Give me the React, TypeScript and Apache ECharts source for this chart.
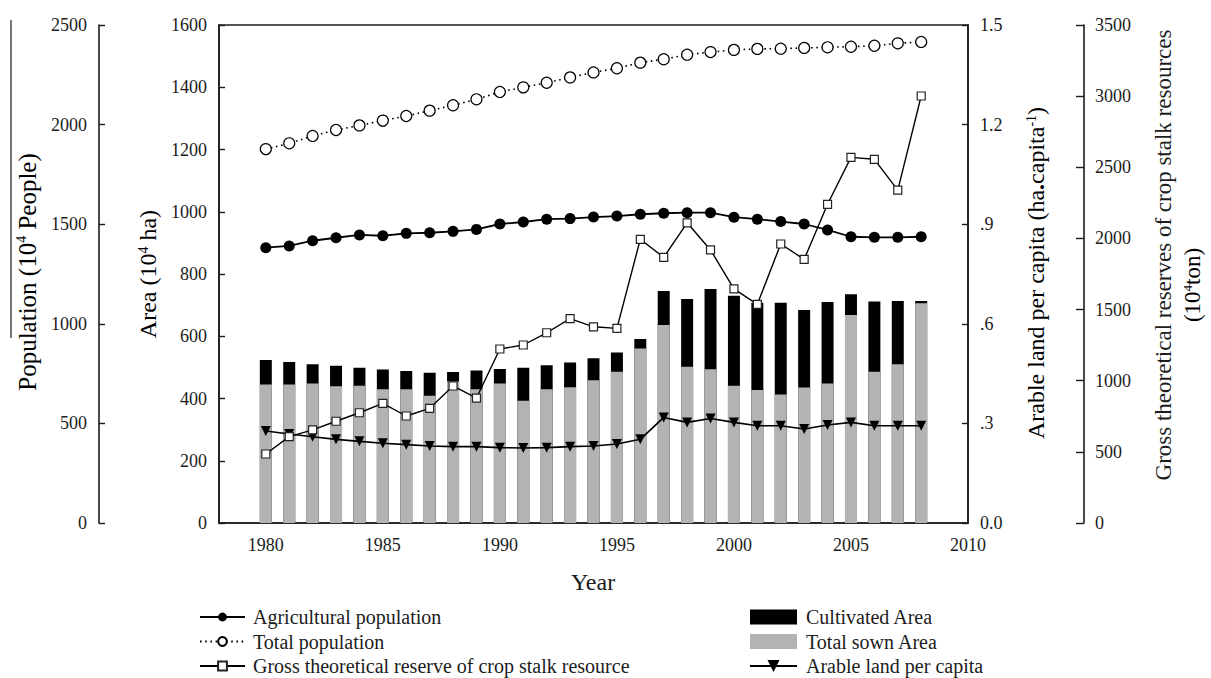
import React, { useEffect, useRef } from "react";
import * as echarts from "echarts";

// Years covered by every series
const years = [
  1980, 1981, 1982, 1983, 1984, 1985, 1986, 1987, 1988, 1989, 1990, 1991, 1992, 1993, 1994,
  1995, 1996, 1997, 1998, 1999, 2000, 2001, 2002, 2003, 2004, 2005, 2006, 2007, 2008,
];

// Area, 10^4 ha (left axis)
const cultivatedArea = [
  524, 517, 510, 505, 499, 493, 488, 483, 485, 490, 495, 499, 507, 516, 529,
  548, 591, 745, 720, 752, 730, 708, 708, 684, 710, 735, 712, 713, 713,
];
const totalSownArea = [
  445, 445, 448, 439, 441, 430, 430, 409, 455, 430, 448, 393, 430, 436, 459,
  486, 561, 636, 502, 494, 441, 427, 413, 435, 448, 668, 486, 510, 706,
];

// Population, 10^4 people (outer left axis)
const agriculturalPopulation = [
  1382, 1391, 1417, 1432, 1446, 1442, 1454, 1457, 1464, 1474, 1501, 1511, 1525, 1528, 1536,
  1541, 1550, 1555, 1558, 1558, 1535, 1525, 1513, 1501, 1471, 1437, 1434, 1434, 1437,
];
const totalPopulation = [
  1877, 1906, 1943, 1973, 1996, 2020, 2043, 2070, 2097, 2127, 2164, 2187, 2210, 2237, 2262,
  2283, 2311, 2328, 2351, 2364, 2375, 2380, 2381, 2385, 2388, 2391, 2396, 2408, 2415,
];

// Crop stalk resources, 10^4 ton (outer right axis)
const stalkReserve = [
  485, 607, 654, 715, 775, 841, 752, 806, 963, 878, 1223, 1251, 1337, 1436, 1379,
  1368, 1994, 1867, 2110, 1919, 1645, 1537, 1961, 1853, 2240, 2570, 2556, 2340, 3001,
];

// Arable land per capita, ha/capita (inner right axis)
const arablePerCapita = [
  0.277, 0.268, 0.26, 0.252, 0.246, 0.24, 0.236, 0.232, 0.23, 0.23, 0.227, 0.226, 0.227, 0.23, 0.232,
  0.238, 0.252, 0.318, 0.303, 0.315, 0.303, 0.293, 0.293, 0.283, 0.295, 0.303, 0.293, 0.293, 0.293,
];

const FONT = '"Liberation Serif", "Times New Roman", serif';
const INK = "#1c1c1c";

const pairs = (vals: number[]) => years.map((y, i) => [y, vals[i]]);

const axisBase = {
  type: "value" as const,
  splitLine: { show: false },
  axisLine: { show: true, lineStyle: { color: INK, width: 1.6 } },
  axisTick: { show: true, inside: true, length: 6, lineStyle: { color: INK, width: 1.4 } },
  axisLabel: {
    fontSize: 18,
    color: INK,
    fontFamily: FONT,
    margin: 12,
    formatter: (v: number) => String(v),
  },
};

const titleRich = (size: number) => ({
  n: { fontSize: size, lineHeight: size, fontFamily: FONT, color: INK },
  s: {
    fontSize: Math.round(size * 0.58),
    lineHeight: Math.round(size * 0.58),
    fontFamily: FONT,
    color: INK,
    verticalAlign: "top" as const,
  },
});

const legendText = { fontSize: 20, lineHeight: 20, fontFamily: FONT, color: INK };

function buildOption(): echarts.EChartsOption {
  return {
    animation: false,
    backgroundColor: "#fff",
    grid: {
      left: 219,
      right: 243,
      top: 25,
      bottom: 155,
      show: true,
      borderColor: INK,
      borderWidth: 1.6,
    },
    xAxis: {
      type: "value",
      min: 1978,
      max: 2010,
      splitNumber: 6,
      splitLine: { show: false },
      axisLine: { lineStyle: { color: INK, width: 1.6 } },
      axisTick: { show: false },
      axisLabel: {
        fontSize: 18,
        color: INK,
        fontFamily: FONT,
        margin: 13,
        formatter: (v: number) => (v % 5 === 0 ? String(v) : ""),
      },
    },
    yAxis: [
      { ...axisBase, position: "left", min: 0, max: 1600, interval: 200 },
      { ...axisBase, position: "left", offset: 120, min: 0, max: 2500, interval: 500 },
      {
        ...axisBase,
        position: "right",
        min: 0,
        max: 1.5,
        interval: 0.3,
        axisLabel: {
          ...axisBase.axisLabel,
          formatter: (v: number) => {
            if (v === 0) return "0.0";
            const s = v.toFixed(1);
            return v < 1 ? s.slice(1) : s;
          },
        },
      },
      {
        ...axisBase,
        position: "right",
        offset: 116,
        min: 0,
        max: 3500,
        interval: 500,
        axisTick: { ...axisBase.axisTick, length: 8 },
        axisLabel: { ...axisBase.axisLabel, margin: 11 },
      },
    ],
    legend: [
      {
        orient: "vertical",
        left: 199,
        top: 607,
        height: 80,
        padding: 0,
        itemWidth: 45,
        itemHeight: 11,
        itemGap: 4.5,
        textStyle: { ...legendText, padding: [0, 0, 0, 3] },
        data: [
          "Agricultural population",
          "Total population",
          "Gross theoretical reserve of crop stalk resource",
        ],
      },
      {
        orient: "vertical",
        left: 749,
        top: 607,
        height: 80,
        padding: 0,
        itemWidth: 47,
        itemHeight: 15,
        itemGap: 4.5,
        textStyle: { ...legendText, padding: [0, 0, 0, 4] },
        data: [
          { name: "Cultivated Area", icon: "rect" },
          { name: "Total sown Area", icon: "rect" },
          { name: "Arable land per capita" },
        ],
      },
    ],
    series: [
      {
        name: "Cultivated Area",
        type: "bar",
        yAxisIndex: 0,
        barWidth: 12,
        barGap: "-100%",
        itemStyle: { color: "#000" },
        data: pairs(cultivatedArea),
      },
      {
        name: "Total sown Area",
        type: "bar",
        yAxisIndex: 0,
        barWidth: 12,
        barGap: "-100%",
        itemStyle: { color: "#b3b3b3" },
        data: pairs(totalSownArea),
      },
      {
        name: "Arable land per capita",
        type: "line",
        yAxisIndex: 2,
        symbol: "triangle",
        symbolRotate: 180,
        symbolSize: 10,
        lineStyle: { color: "#000", width: 1.6 },
        itemStyle: { color: "#000" },
        data: pairs(arablePerCapita),
      },
      {
        name: "Gross theoretical reserve of crop stalk resource",
        type: "line",
        yAxisIndex: 3,
        symbol: "rect",
        symbolSize: 8,
        lineStyle: { color: "#000", width: 1.4 },
        itemStyle: { color: "#fff", borderColor: "#222", borderWidth: 1.2 },
        data: pairs(stalkReserve),
      },
      {
        name: "Agricultural population",
        type: "line",
        yAxisIndex: 1,
        symbol: "circle",
        symbolSize: 11,
        lineStyle: { color: "#000", width: 1.8 },
        itemStyle: { color: "#000" },
        data: pairs(agriculturalPopulation),
      },
      {
        name: "Total population",
        type: "line",
        yAxisIndex: 1,
        symbol: "circle",
        symbolSize: 11,
        lineStyle: { color: "#000", width: 1.6, type: [1.6, 3.6] },
        itemStyle: { color: "#fff", borderColor: "#000", borderWidth: 1.2 },
        data: pairs(totalPopulation),
      },
    ],
    graphic: [
      {
        type: "line",
        shape: { x1: 11, y1: 20, x2: 11, y2: 338 },
        style: { stroke: INK, lineWidth: 1.2 },
      },
      {
        type: "text",
        x: 27,
        y: 272,
        rotation: Math.PI / 2,
        style: {
          text: "{n|Population (10}{s|4}{n| People)}",
          rich: titleRich(25),
          align: "center",
          verticalAlign: "middle",
        },
      },
      {
        type: "text",
        x: 148,
        y: 274,
        rotation: Math.PI / 2,
        style: {
          text: "{n|Area (10}{s|4}{n| ha)}",
          rich: titleRich(24),
          align: "center",
          verticalAlign: "middle",
        },
      },
      {
        type: "text",
        x: 1036,
        y: 273,
        rotation: Math.PI / 2,
        style: {
          text: "{n|Arable land per capita (ha}{d|.}{n|capita}{s|-1}{n|)}",
          rich: {
            ...titleRich(24),
            d: { fontSize: 24, lineHeight: 24, fontFamily: FONT, color: INK, fontWeight: "bold" },
          },
          align: "center",
          verticalAlign: "middle",
        },
      },
      {
        type: "text",
        x: 1163,
        y: 255,
        rotation: Math.PI / 2,
        style: {
          text: "Gross theoretical reserves of crop stalk resources",
          fontSize: 23,
          fontFamily: FONT,
          fill: INK,
          align: "center",
          verticalAlign: "middle",
        },
      },
      {
        type: "text",
        x: 1192,
        y: 285,
        rotation: Math.PI / 2,
        style: {
          text: "{n|(10}{s|4}{n|ton)}",
          rich: titleRich(23),
          align: "center",
          verticalAlign: "middle",
        },
      },
      {
        type: "text",
        x: 593,
        y: 582,
        style: {
          text: "Year",
          fontSize: 24,
          fontFamily: FONT,
          fill: INK,
          align: "center",
          verticalAlign: "middle",
        },
      },
    ],
  };
}

export default function App() {
  const ref = useRef<HTMLDivElement>(null);

  useEffect(() => {
    if (!ref.current) return;
    const chart = echarts.init(ref.current, null, { renderer: "svg" });
    chart.setOption(buildOption());
    return () => chart.dispose();
  }, []);

  return (
    <div
      ref={ref}
      style={{ position: "fixed", left: 0, top: 0, width: 1211, height: 678, background: "#fff" }}
    />
  );
}
